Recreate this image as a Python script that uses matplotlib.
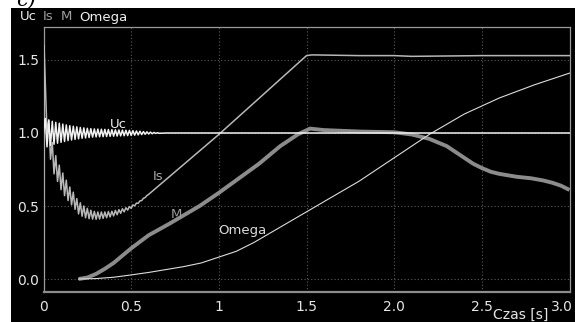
import numpy as np
import matplotlib
matplotlib.use("Agg")
import matplotlib.pyplot as plt
from matplotlib.patches import Rectangle
import matplotlib.transforms as mtrans

# ---------------- data ----------------
# Uc: oscillating start (sampled every 0.01 s), then flat at 1.0
uc_t0 = np.round(np.arange(0.0, 0.665, 0.01), 2)
uc_v0 = [1.00, 1.10, 0.905, 1.09, 0.915, 1.08, 0.923, 1.073, 0.93, 1.067,
         0.936, 1.061, 0.942, 1.055, 0.948, 1.05, 0.952, 1.046, 0.956, 1.042,
         0.96, 1.038, 0.964, 1.035, 0.966, 1.032, 0.969, 1.03, 0.972, 1.028,
         0.973, 1.027, 0.974, 1.026, 0.975, 1.025, 0.976, 1.024, 0.977, 1.023,
         0.978, 1.022, 0.979, 1.021, 0.980, 1.020, 0.981, 1.019, 0.982, 1.018,
         0.983, 1.016, 0.985, 1.014, 0.987, 1.012, 0.989, 1.010, 0.991, 1.008,
         0.993, 1.006, 0.995, 1.004, 0.997, 1.002, 0.998]
uc_t1 = [0.70, 3.0]
uc_v1 = [1.0, 1.0]

# Is: spike, oscillating decay (sampled every 0.01 s), linear rise, plateau
is_t_start = [0.0, 0.003]
is_v_start = [0.0, 1.60]
is_t_osc = np.round(np.arange(0.01, 0.605, 0.01), 2)
is_v_osc = [1.35, 1.00, 1.085, 0.82, 0.935, 0.72, 0.845, 0.668, 0.78, 0.612,
            0.726, 0.571, 0.677, 0.537, 0.63, 0.508, 0.595, 0.477, 0.551, 0.446,
            0.522, 0.43, 0.50, 0.419, 0.484, 0.413, 0.471, 0.41, 0.463, 0.409,
            0.459, 0.411, 0.459, 0.415, 0.459, 0.42, 0.462, 0.425, 0.464, 0.432,
            0.47, 0.44, 0.475, 0.45, 0.481, 0.46, 0.488, 0.472, 0.496, 0.484,
            0.507, 0.501, 0.52, 0.518, 0.535, 0.537, 0.553, 0.558, 0.572, 0.58]
is_t_end = [1.0, 1.5, 1.53, 1.8, 2.0, 2.1, 2.5, 3.0]
is_v_end = [0.99, 1.53, 1.535, 1.53, 1.53, 1.525, 1.53, 1.53]

# M (torque)
m_t = [0.20, 0.25, 0.30, 0.35, 0.40, 0.45, 0.50, 0.60, 0.72, 0.89, 1.00, 1.23,
       1.35, 1.45, 1.52, 1.60, 1.80, 2.00, 2.10, 2.20, 2.30, 2.40, 2.45, 2.50,
       2.55, 2.60, 2.65, 2.70, 2.78, 2.85, 2.90, 2.95, 3.00]
m_v = [0.00, 0.01, 0.035, 0.07, 0.11, 0.16, 0.21, 0.30, 0.38, 0.50, 0.59, 0.79,
       0.91, 0.99, 1.03, 1.02, 1.01, 1.005, 0.99, 0.96, 0.91, 0.83, 0.79, 0.76,
       0.735, 0.72, 0.71, 0.70, 0.69, 0.675, 0.66, 0.64, 0.61]

# Omega (speed)
om_t = [0.20, 0.30, 0.40, 0.50, 0.60, 0.70, 0.80, 0.90, 1.00, 1.10, 1.20, 1.30,
        1.40, 1.50, 1.60, 1.80, 2.00, 2.20, 2.40, 2.60, 2.80, 3.00]
om_v = [0.00, 0.003, 0.012, 0.028, 0.045, 0.065, 0.085, 0.11, 0.15, 0.19, 0.25, 0.32,
        0.39, 0.46, 0.53, 0.67, 0.83, 0.99, 1.13, 1.24, 1.33, 1.41]

x_ticks = [0, 0.5, 1, 1.5, 2.0, 2.5, 3.0]
x_ticklabels = ["0", "0.5", "1", "1.5", "2.0", "2.5", "3.0"]
y_ticks = [0.0, 0.5, 1.0, 1.5]
y_ticklabels = ["0.0", "0.5", "1.0", "1.5"]

legend_names = ["Uc", "Is", "M", "Omega"]

# ---------------- figure ----------------
W, H = 575, 322
fig = plt.figure(figsize=(W / 100, H / 100), dpi=100, facecolor="white")

# black panel (behind the axes)
fig.patches.append(Rectangle((11 / W, 0), 1 - 11 / W, (H - 8) / H,
                             transform=fig.transFigure, facecolor="black",
                             edgecolor="none", zorder=-10))
# partial caption at top-left (cut off by the figure edge, as in the source)
fig.text(16 / W, (H - 6) / H, "c)", fontsize=15, family="DejaVu Serif",
         style="italic", color="black", ha="left", va="baseline", zorder=-5)

ax = fig.add_axes([43.5 / W, (H - 292) / H, (569.5 - 43.5) / W, (292 - 27) / H])
ax.set_zorder(5)
ax.set_facecolor("black")
ax.set_xlim(0, 3.0)
ax.set_ylim(-0.089, 1.726)

c_uc = "#f2f2f2"
c_is = "#b8b8b8"
c_m = "#8c8c8c"
c_om = "#dcdcdc"

# Is
is_t = list(is_t_start) + list(is_t_osc) + list(is_t_end)
is_v = list(is_v_start) + list(is_v_osc) + list(is_v_end)
ax.plot(is_t, is_v, color=c_is, lw=1.1, zorder=3)
# M
ax.plot(m_t, m_v, color=c_m, lw=2.8, zorder=3, solid_capstyle="butt",
        solid_joinstyle="round")
# Omega
ax.plot(om_t, om_v, color=c_om, lw=0.8, zorder=4)
# Uc
uc_t = list(uc_t0) + uc_t1
uc_v = list(uc_v0) + uc_v1
ax.plot(uc_t, uc_v, color=c_uc, lw=1.1, zorder=5)

# grid / ticks
ax.set_xticks(x_ticks)
ax.set_xticklabels(x_ticklabels)
ax.set_yticks(y_ticks)
ax.set_yticklabels(y_ticklabels)
ax.grid(True, color="#5a5a5a", lw=0.8, ls=(0, (1, 2)))
ax.set_axisbelow(True)
ax.tick_params(axis="both", length=0, colors="#e6e6e6", labelsize=10)
ax.tick_params(axis="x", pad=5.5)
ax.tick_params(axis="y", pad=3)
lbls = ax.get_xticklabels()
lbls[-1].set_horizontalalignment("right")
lbls[-1].set_transform(lbls[-1].get_transform() +
                       mtrans.ScaledTranslation(3 / 100, 0, fig.dpi_scale_trans))

for s in ["left", "top", "right"]:
    ax.spines[s].set_color("#9a9a9a")
    ax.spines[s].set_linewidth(0.9)
ax.spines["bottom"].set_color("#8c8c8c")
ax.spines["bottom"].set_linewidth(1.6)

# in-plot labels
ax.text(0.425, 1.055, "Uc", color=c_uc, fontsize=9.5, ha="center", va="center", zorder=6)
ax.text(0.653, 0.70, "Is", color="#a8a8a8", fontsize=9.5, ha="center", va="center", zorder=6)
ax.text(0.756, 0.44, "M", color="#9a9a9a", fontsize=9.5, ha="center", va="center", zorder=6)
ax.text(1.135, 0.33, "Omega", color=c_om, fontsize=9.5, ha="center", va="center", zorder=6)

# top legend-like names
leg_x = [20, 43, 61, 79]
leg_c = ["#f0f0f0", "#a0a0a0", "#a0a0a0", "#f0f0f0"]
for name, xx, cc in zip(legend_names, leg_x, leg_c):
    fig.text(xx / W, (H - 17) / H, name, color=cc, fontsize=9.5,
             ha="left", va="center")

# axis title
fig.text(521 / W, (H - 315) / H, "Czas [s]", color="#e6e6e6", fontsize=10,
         ha="center", va="center")

fig.savefig("out.png", dpi=100, facecolor="white")
